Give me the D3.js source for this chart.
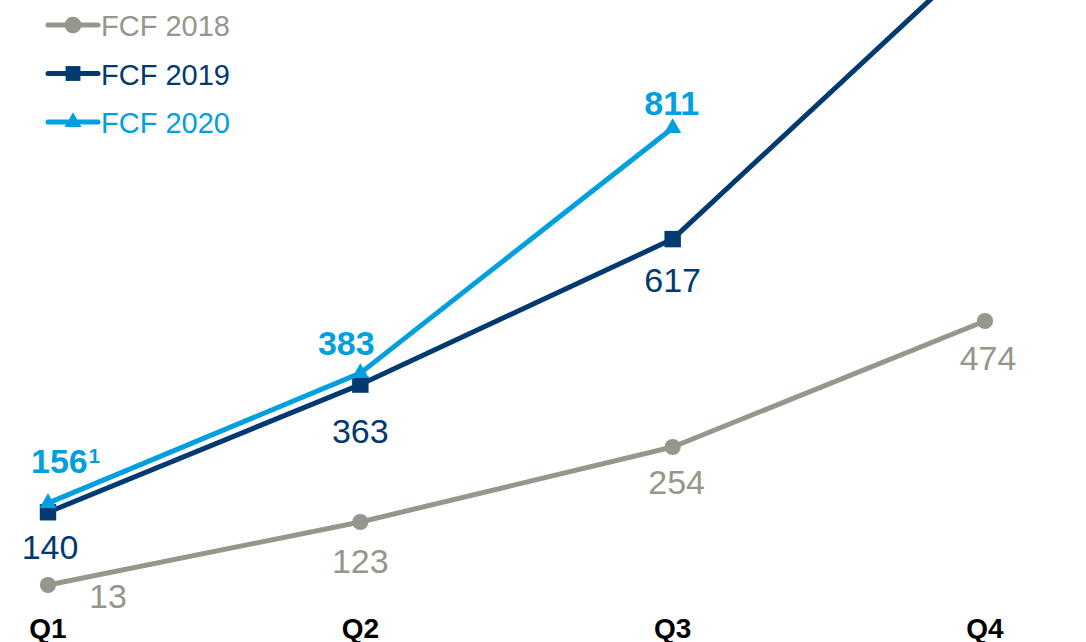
<!DOCTYPE html>
<html>
<head>
<meta charset="utf-8">
<script src="https://cdn.jsdelivr.net/npm/d3@7"></script>
<style>
  body { margin: 0; background: #fff; }
  svg { display: block; font-family: "Liberation Sans", Arial, sans-serif; }
</style>
</head>
<body>
<div id="chart"></div>
<script>
// quarters and cumulative free cash flow per year
const quarters = ["Q1", "Q2", "Q3", "Q4"];
const fcf2018 = [13, 123, 254, 474];
const fcf2019 = [140, 363, 617, 1124];   // Q4 runs off the top, estimated
const fcf2020 = [156, 383, 811];

// which labels get shown (2019 Q4 is off chart)
const labels2019 = ["140", "363", "617", null];
const labels2020 = ["156", "383", "811"];

const width = 1086, height = 642;

const series = [
  { name: "FCF 2018", values: fcf2018, labels: fcf2018.map(String), color: "#96968c",
    symbol: "circle", bold: false,
    dx: [60, 0, 4, 3], dy: [23, 51, 47, 49] },
  { name: "FCF 2019", values: fcf2019, labels: labels2019, color: "#003a70",
    symbol: "square", bold: false,
    dx: [2, 0, 0, 0], dy: [47, 58, 53, 0] },
  { name: "FCF 2020", values: fcf2020, labels: labels2020, color: "#009fdf",
    symbol: "triangle", bold: true,
    dx: [-17, -14, -1], dy: [-30, -18, -13] }
];

const x = d3.scalePoint().domain(quarters).range([48, 985]);
const y = d3.scaleLinear().domain([13, 474]).range([585, 321]);

const svg = d3.select("#chart")
  .append("svg")
  .attr("width", width)
  .attr("height", height);

// x axis labels only (no axis line)
svg.append("g")
  .selectAll("text")
  .data(quarters)
  .join("text")
  .attr("x", d => x(d))
  .attr("y", 638)
  .attr("text-anchor", "middle")
  .attr("font-size", 28)
  .attr("font-weight", "bold")
  .attr("fill", "#000")
  .text(d => d);

const symbolType = { circle: d3.symbolCircle, square: d3.symbolSquare, triangle: d3.symbolTriangle };
const symbolSize = { circle: 205, square: 270, triangle: 125 };
const legendSize = { circle: 220, square: 220, triangle: 125 };

const line = d3.line()
  .x((d, i) => x(quarters[i]))
  .y(d => y(d));

series.forEach(s => {
  const g = svg.append("g");

  g.append("path")
    .datum(s.values)
    .attr("d", line)
    .attr("fill", "none")
    .attr("stroke", s.color)
    .attr("stroke-width", 5)
    .attr("stroke-linejoin", "round");

  g.selectAll(".pt")
    .data(s.values)
    .join("path")
    .attr("class", "pt")
    .attr("transform", (d, i) => `translate(${x(quarters[i])},${y(d)})`)
    .attr("d", d3.symbol().type(symbolType[s.symbol]).size(symbolSize[s.symbol]))
    .attr("fill", s.color);
});

// value labels drawn after all lines
series.forEach(s => {
  svg.append("g")
    .selectAll("text")
    .data(s.values.map((v, i) => ({ v, i, t: s.labels[i] })).filter(d => d.t))
    .join("text")
    .attr("x", d => x(quarters[d.i]) + s.dx[d.i])
    .attr("y", d => y(d.v) + s.dy[d.i])
    .attr("text-anchor", d => (s.name === "FCF 2020" && d.i === 0) ? "start" : "middle")
    .attr("font-size", 34)
    .attr("font-weight", s.bold ? "bold" : "normal")
    .attr("fill", s.color)
    .each(function (d) {
      const t = d3.select(this);
      t.append("tspan").text(d.t);
      if (s.name === "FCF 2020" && d.i === 0) {
        // footnote marker
        t.append("tspan")
          .attr("font-size", 20)
          .attr("dx", 1)
          .attr("dy", -10)
          .text("1");
      }
    });
});

// legend
const legend = svg.append("g");
series.forEach((s, i) => {
  const ly = 25 + i * 48.5;
  const row = legend.append("g").attr("transform", `translate(0,${ly})`);
  row.append("line")
    .attr("x1", 48).attr("x2", 98)
    .attr("y1", 0).attr("y2", 0)
    .attr("stroke", s.color)
    .attr("stroke-width", 5)
    .attr("stroke-linecap", "round");
  row.append("path")
    .attr("transform", "translate(73,0)")
    .attr("d", d3.symbol().type(symbolType[s.symbol]).size(legendSize[s.symbol]))
    .attr("fill", s.color);
  row.append("text")
    .attr("x", 101)
    .attr("y", 11)
    .attr("font-size", 29)
    .attr("fill", s.color)
    .text(s.name);
});
</script>
</body>
</html>
